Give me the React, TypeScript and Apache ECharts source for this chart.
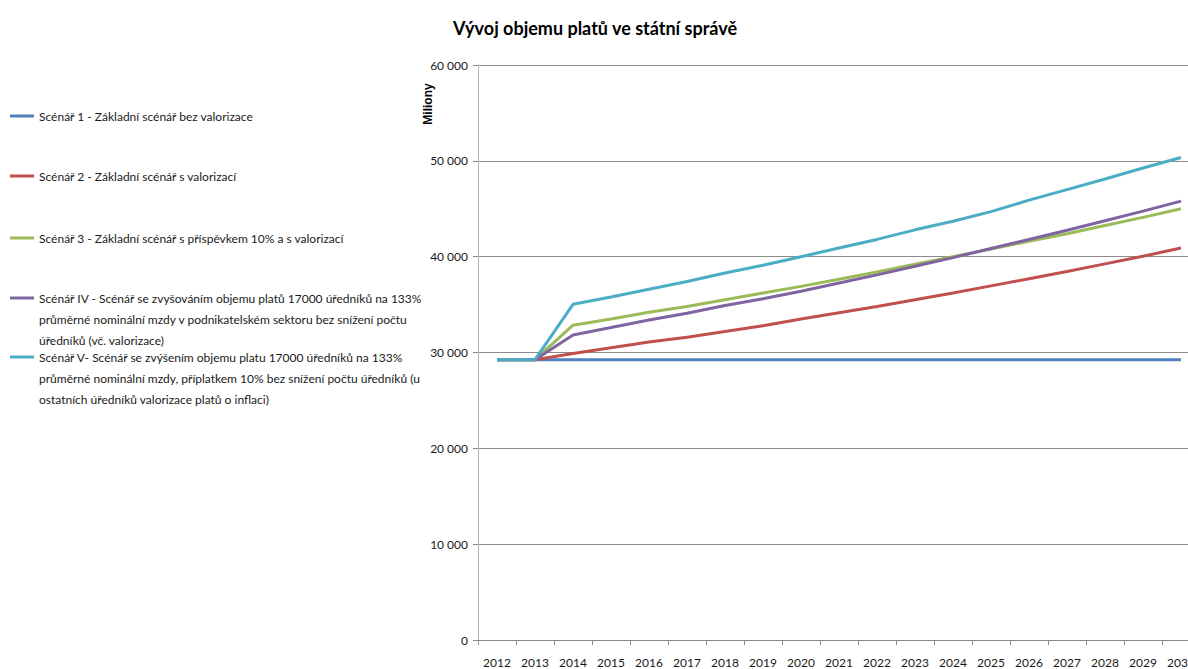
import React, { useEffect, useRef } from "react";
import * as echarts from "echarts";

// Years on the category axis
const years = [
  "2012", "2013", "2014", "2015", "2016", "2017", "2018", "2019", "2020", "2021",
  "2022", "2023", "2024", "2025", "2026", "2027", "2028", "2029", "2030",
];

// Salary volume per scenario (millions CZK)
const scenario1 = [
  29250, 29250, 29250, 29250, 29250, 29250, 29250, 29250, 29250, 29250,
  29250, 29250, 29250, 29250, 29250, 29250, 29250, 29250, 29250,
];
const scenario2 = [
  29250, 29250, 29900, 30500, 31100, 31600, 32200, 32800, 33500, 34150,
  34800, 35500, 36200, 36950, 37700, 38450, 39250, 40050, 40900,
];
const scenario3 = [
  29250, 29250, 32850, 33500, 34200, 34800, 35500, 36200, 36900, 37650,
  38400, 39200, 40000, 40800, 41600, 42400, 43250, 44100, 45000,
];
const scenario4 = [
  29250, 29250, 31830, 32600, 33400, 34100, 34900, 35600, 36400, 37250,
  38100, 39000, 39900, 40850, 41800, 42750, 43750, 44750, 45800,
];
const scenario5 = [
  29250, 29250, 35030, 35800, 36600, 37400, 38300, 39100, 40000, 40900,
  41800, 42800, 43700, 44700, 45900, 47000, 48100, 49250, 50350,
];

const seriesNames = [
  "Scénář 1 - Základní scénář bez valorizace",
  "Scénář 2 - Základní scénář s valorizací",
  "Scénář 3 - Základní scénář s příspěvkem 10% a s valorizací",
  "Scénář IV - Scénář se zvyšováním objemu platů 17000 úředníků na 133% průměrné nominální mzdy v podnikatelském sektoru bez snížení počtu úředníků (vč. valorizace)",
  "Scénář V- Scénář se zvýšením objemu platu 17000 úředníků na 133% průměrné nominální mzdy, příplatkem 10% bez snížení počtu úředníků (u ostatních úředníků valorizace platů o inflaci)",
];

// Wrapped legend lines for each scenario
const legendLines = [
  ["Scénář 1 - Základní scénář bez valorizace"],
  ["Scénář 2 - Základní scénář s valorizací"],
  ["Scénář 3 - Základní scénář s příspěvkem 10% a s valorizací"],
  [
    "Scénář IV - Scénář se zvyšováním objemu platů 17000 úředníků na 133%",
    "průměrné nominální mzdy v podnikatelském sektoru bez snížení počtu",
    "úředníků (vč. valorizace)",
  ],
  [
    "Scénář V- Scénář se zvýšením objemu platu 17000 úředníků na 133%",
    "průměrné nominální mzdy, příplatkem 10% bez snížení počtu úředníků (u",
    "ostatních úředníků valorizace platů o inflaci)",
  ],
];

const seriesColors = ["#4F81BD", "#C0504D", "#9BBB59", "#8064A2", "#4BACC6"];
const legendCenters = [116, 176, 238, 298, 357];

const FONT = "Lato, 'Open Sans', sans-serif";
const LINE_H = 21;

function formatThousands(v: number): string {
  return String(v).replace(/\B(?=(\d{3})+(?!\d))/g, " ");
}

export default function App() {
  const ref = useRef<HTMLDivElement>(null);

  useEffect(() => {
    if (!ref.current) return;
    const chart = echarts.init(ref.current, undefined, { renderer: "svg" });
    const values = [scenario1, scenario2, scenario3, scenario4, scenario5];

    // One legend block per scenario; the icon sits on the first text line,
    // so multi-line entries get blank lines above to shift the centre.
    const legends = seriesNames.map((name, i) => {
      const lines = legendLines[i];
      const padded = [...Array(lines.length - 1).fill(""), ...lines];
      const blockH = padded.length * LINE_H;
      return {
        data: [name],
        left: 5,
        top: legendCenters[i] - 5 - blockH / 2,
        padding: 5,
        icon: "rect",
        itemWidth: 24,
        itemHeight: 3,
        selectedMode: false,
        formatter: () => padded.join("\n"),
        textStyle: {
          fontFamily: FONT,
          fontSize: 12,
          color: "#1a1a1a",
          lineHeight: LINE_H,
        },
      };
    });

    chart.setOption({
      animation: false,
      color: seriesColors,
      title: {
        text: "Vývoj objemu platů ve státní správě",
        left: 448,
        top: 14,
        textStyle: {
          fontFamily: FONT,
          fontSize: 18,
          fontWeight: "bold",
          color: "#000",
        },
      },
      legend: legends,
      graphic: [
        {
          type: "text",
          x: 428,
          y: 104,
          rotation: Math.PI / 2,
          style: {
            text: "Miliony",
            fontFamily: "'Liberation Sans', Arial, sans-serif",
            fontSize: 12,
            fontWeight: "bold",
            fill: "#000",
            align: "center",
            verticalAlign: "middle",
          },
        },
      ],
      grid: { left: 478, right: 10, top: 65, bottom: 29, containLabel: false },
      xAxis: {
        type: "category",
        data: years,
        boundaryGap: true,
        axisLine: { lineStyle: { color: "#8c8c8c", width: 1 } },
        axisTick: { show: true, length: 5, lineStyle: { color: "#8c8c8c" } },
        axisLabel: {
          fontFamily: FONT,
          fontSize: 12,
          color: "#1a1a1a",
          margin: 16,
          interval: 0,
        },
      },
      yAxis: {
        type: "value",
        min: 0,
        max: 60000,
        interval: 10000,
        axisLine: { show: true, lineStyle: { color: "#b5b5b5", width: 1 } },
        axisTick: { show: true, length: 5, lineStyle: { color: "#8c8c8c" } },
        axisLabel: {
          fontFamily: FONT,
          fontSize: 12,
          color: "#1a1a1a",
          margin: 10,
          formatter: (v: number) => formatThousands(v),
        },
        splitLine: { lineStyle: { color: "#8c8c8c", width: 1 } },
      },
      series: values.map((data, i) => ({
        name: seriesNames[i],
        type: "line",
        data,
        symbol: "none",
        smooth: false,
        lineStyle: { width: 3, color: seriesColors[i] },
        itemStyle: { color: seriesColors[i] },
      })),
    });

    return () => chart.dispose();
  }, []);

  return (
    <div
      style={{
        position: "fixed",
        left: 0,
        top: 0,
        width: 1188,
        height: 669,
        overflow: "hidden",
        background: "#fff",
      }}
    >
      <div ref={ref} style={{ width: 1210, height: 669 }} />
    </div>
  );
}
